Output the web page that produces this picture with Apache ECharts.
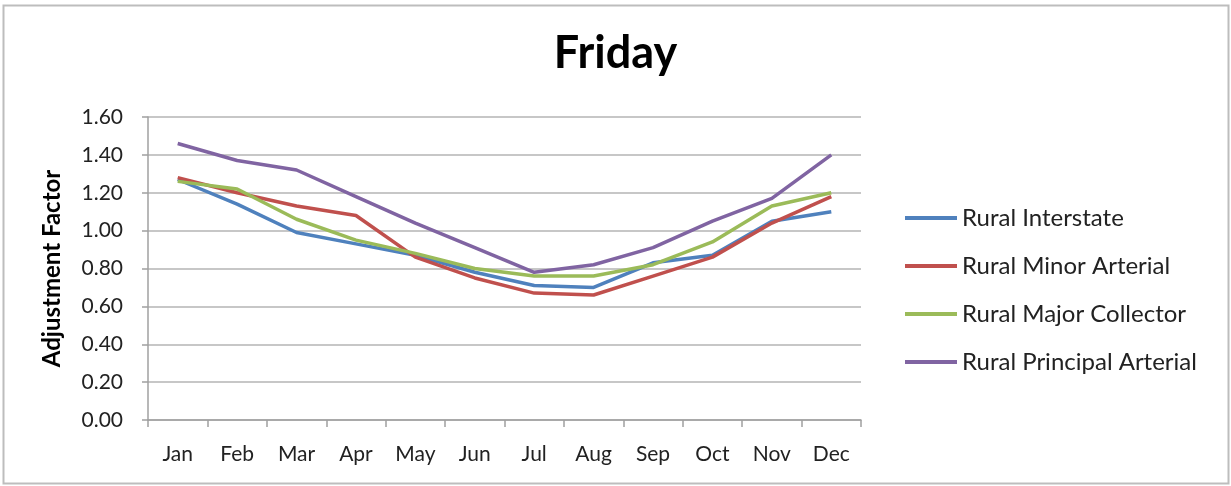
<!DOCTYPE html>
<html>
<head>
<meta charset="utf-8">
<script src="https://cdn.jsdelivr.net/npm/echarts@6/dist/echarts.min.js"></script>
<style>
  html, body { margin: 0; padding: 0; background: #fff; }
  #chart { width: 1231px; height: 486px; }
</style>
</head>
<body>
<div id="chart"></div>
<script>
// Monthly Friday adjustment factors by rural road class
const months = ['Jan', 'Feb', 'Mar', 'Apr', 'May', 'Jun', 'Jul', 'Aug', 'Sep', 'Oct', 'Nov', 'Dec'];
const ruralInterstate = [1.27, 1.14, 0.99, 0.93, 0.87, 0.78, 0.71, 0.70, 0.83, 0.87, 1.05, 1.10];
const ruralMinorArterial = [1.28, 1.20, 1.13, 1.08, 0.86, 0.75, 0.67, 0.66, 0.76, 0.86, 1.04, 1.18];
const ruralMajorCollector = [1.26, 1.22, 1.06, 0.95, 0.88, 0.80, 0.76, 0.76, 0.82, 0.94, 1.13, 1.20];
const ruralPrincipalArterial = [1.46, 1.37, 1.32, 1.18, 1.04, 0.91, 0.78, 0.82, 0.91, 1.05, 1.17, 1.40];
const yTicks = { min: 0, max: 1.6, step: 0.2 };

const font = 'Lato, "Open Sans", "DejaVu Sans", sans-serif';
const gridColor = '#b4b4b4';

function lineSeries(name, data, color) {
  return {
    name: name,
    type: 'line',
    data: data,
    symbol: 'none',
    lineStyle: { color: color, width: 3.5 },
    itemStyle: { color: color },
    emphasis: { disabled: true }
  };
}

const chart = echarts.init(document.getElementById('chart'));
chart.setOption({
  animation: false,
  backgroundColor: '#fff',
  title: {
    text: 'Friday',
    left: 'center',
    top: 26,
    textStyle: { fontFamily: font, fontSize: 45, fontWeight: 'bold', color: '#000' }
  },
  grid: { left: 148, top: 117, width: 713, height: 303 },
  legend: {
    orient: 'vertical',
    left: 900,
    top: 201,
    icon: 'rect',
    itemWidth: 52,
    itemHeight: 4,
    itemGap: 24,
    textStyle: { fontFamily: font, fontSize: 24, lineHeight: 24, color: '#222' },
    data: ['Rural Interstate', 'Rural Minor Arterial', 'Rural Major Collector', 'Rural Principal Arterial']
  },
  xAxis: {
    type: 'category',
    data: months,
    boundaryGap: true,
    axisLine: { lineStyle: { color: '#a0a0a0', width: 1.5 } },
    axisTick: { show: true, length: 7, lineStyle: { color: '#a0a0a0', width: 1.5 } },
    axisLabel: { fontFamily: font, fontSize: 21, color: '#222', margin: 24 }
  },
  yAxis: {
    type: 'value',
    min: yTicks.min,
    max: yTicks.max,
    interval: yTicks.step,
    name: 'Adjustment Factor',
    nameLocation: 'middle',
    nameGap: 84,
    nameTextStyle: { fontFamily: font, fontSize: 24, fontWeight: 'bold', color: '#000' },
    axisLine: { show: true, lineStyle: { color: '#a0a0a0', width: 1.5 } },
    axisTick: { show: true, length: 6, lineStyle: { color: '#a0a0a0', width: 1.5 } },
    axisLabel: {
      fontFamily: font, fontSize: 21, color: '#222', margin: 25,
      formatter: v => v.toFixed(2)
    },
    splitLine: { lineStyle: { color: gridColor, width: 1.5 } }
  },
  graphic: [{
    type: 'rect',
    shape: { x: 3.5, y: 5.5, width: 1225, height: 478 },
    style: { fill: 'none', stroke: '#bdbdbd', lineWidth: 2 },
    silent: true
  }],
  series: [
    lineSeries('Rural Interstate', ruralInterstate, '#4F81BD'),
    lineSeries('Rural Minor Arterial', ruralMinorArterial, '#C0504D'),
    lineSeries('Rural Major Collector', ruralMajorCollector, '#9BBB59'),
    lineSeries('Rural Principal Arterial', ruralPrincipalArterial, '#8064A2')
  ]
});
</script>
</body>
</html>
